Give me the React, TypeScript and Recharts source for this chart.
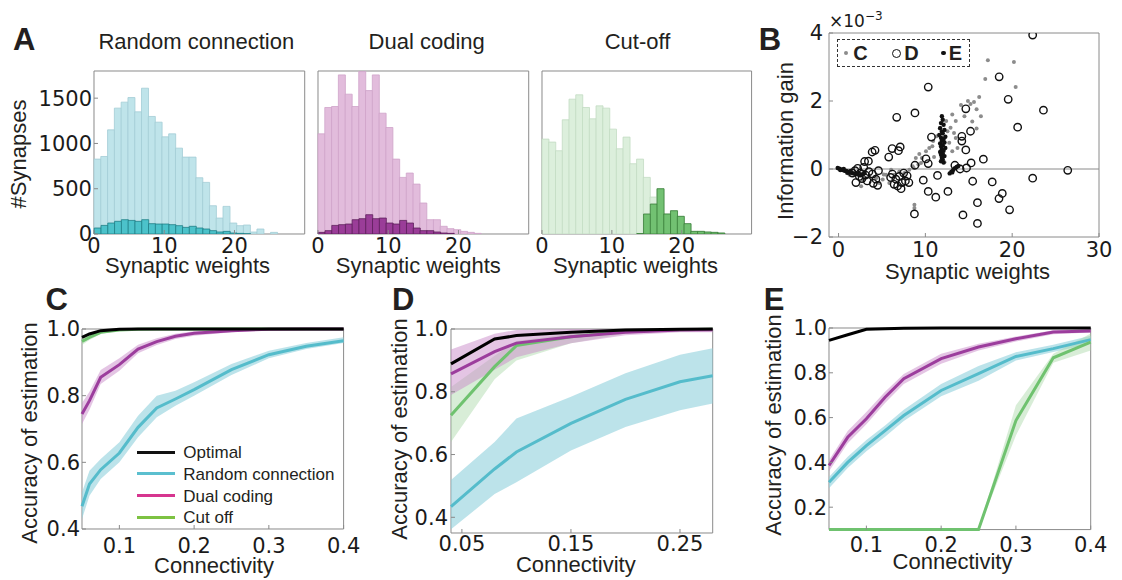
import React from "react";
import {
  BarChart,
  Bar,
  XAxis,
  YAxis,
  ScatterChart,
  Scatter,
  ComposedChart,
  Area,
  Line,
  ReferenceArea,
  ReferenceLine,
} from "recharts";

const SANS = "'Liberation Sans', Arial, Helvetica, sans-serif";
const TICK = { fontFamily: "DejaVu Sans", fontSize: 21, fill: "#1a1a1a" };
const FRAME = "#8a8a8a";
const INK = "#231f20";
const M = { top: 14, right: 22, bottom: 4, left: 14 };
const TL = 4; // inward tick length

// ---- A: synaptic weight histograms (bin start, width 1) ----
const weightBins = [0, 1, 2, 3, 4, 5, 6, 7, 8, 9, 10, 11, 12, 13, 14, 15, 16, 17, 18, 19, 20, 21, 22, 23, 24, 25, 26, 27, 28, 29];
const randomAll = [827, 856, 1150, 1390, 1456, 1507, 1349, 1610, 1298, 1235, 1073, 1106, 948, 849, 849, 621, 570, 312, 176, 305, 121, 92, 99, 22, 55, 0, 18, 0, 0, 0];
const randomSel = [66, 95, 121, 140, 158, 150, 140, 158, 114, 110, 110, 103, 92, 73, 85, 66, 55, 37, 22, 29, 11, 7, 3, 0, 0, 0, 0, 0, 0, 0];
const dualAll = [1106, 1397, 1408, 1757, 1544, 1408, 1794, 1584, 1757, 1334, 1176, 827, 625, 673, 551, 342, 158, 158, 85, 59, 48, 29, 18, 7, 0, 0, 0, 0, 0, 0];
const dualSel = [18, 37, 95, 103, 110, 158, 169, 213, 169, 176, 121, 110, 150, 121, 66, 37, 37, 22, 11, 7, 0, 0, 0, 0, 0, 0, 0, 0, 0, 0];
const cutAll = [1048, 1015, 919, 1261, 1489, 1537, 1397, 1272, 1415, 1390, 1158, 941, 1070, 776, 827, 625, 408, 500, 221, 257, 195, 114, 29, 29, 22, 18, 11, 0, 0, 0];
const cutSel = [0, 0, 0, 0, 0, 0, 0, 0, 0, 0, 0, 0, 0, 0, 5, 221, 331, 500, 221, 257, 195, 114, 29, 29, 22, 18, 11, 0, 0, 0];

// ---- B: information gain (x1e-3) vs synaptic weight ----
const gainC = [
  [17.2, 3.2], [20.2, 3.15], [16.9, 2.65], [20.4, 2.41], [16.2, 2.12], [15.6, 1.97], [15.2, 1.91], [15.9, 1.76],
  [16.4, 1.55], [15.4, 1.4], [15.9, 1.19], [14.1, 1.88], [14.9, 2.0], [13.1, 1.6], [12.4, 1.41], [13.5, 1.41],
  [12.9, 1.21], [13.3, 1.06], [12.55, 1.11], [13.5, 0.91], [12.75, 0.77], [13.7, 0.62], [13.1, 0.52], [11.7, 1.21],
  [11.3, 0.96], [10.9, 0.82], [10.45, 0.62], [10.8, 0.67], [10.07, 0.52], [9.3, 0.44], [9.6, 0.32], [8.9, 0.32],
  [9.5, 0.18], [9.2, 0.13], [8.65, 0.03], [8.53, 0.08], [8.15, -0.02], [7.58, -0.12], [7.0, -0.07], [6.43, -0.17],
  [6.05, -0.02], [5.47, -0.17], [5.09, -0.31], [5.2, -0.16], [4.71, -0.41], [5.85, -0.41], [4.33, -0.27], [3.56, -0.19],
  [2.8, -0.31], [2.6, -0.51], [2.03, -0.12], [1.26, -0.17], [8.74, -1.15], [8.74, -1.05], [14.5, 1.55], [12.2, 0.2], [11.0, 0.35],
];
const gainD = [
  [10.33, 2.41], [8.8, 1.65], [6.7, 1.52], [4.2, 0.55], [3.87, 0.5], [6.17, 0.6], [7.1, 0.65], [6.9, 0.54],
  [5.78, 0.35], [3.44, 0.23], [10.7, 0.94], [10.07, 0.3], [8.8, 0.11], [10.33, 0.16], [13.4, 0.11], [11.4, -0.19],
  [9.76, -0.33], [10.33, -0.66], [11.2, -0.83], [12.6, -0.66], [8.74, -1.32], [22.36, 3.94], [18.5, 2.71], [19.54, 2.05],
  [23.6, 1.73], [14.66, 1.77], [20.63, 1.23], [15.2, 1.11], [14.2, 0.96], [14.2, 0.82], [14.66, 0.56], [16.68, 0.29],
  [15.27, 0.18], [14.74, 0.03], [14.0, 0.0], [26.4, -0.04], [22.36, -0.27], [15.45, -0.36], [17.7, -0.38], [18.86, -0.72],
  [18.48, -0.87], [16.0, -0.99], [19.7, -1.2], [14.33, -1.35], [16.0, -1.6],
  [1.9, -0.05], [2.2, 0.02], [2.5, -0.12], [2.9, 0.05], [3.1, -0.18], [2.7, -0.28], [3.5, -0.08], [3.9, -0.15],
  [4.3, -0.3], [4.6, -0.05], [2.0, -0.4], [3.3, -0.35], [4.0, -0.42], [2.4, -0.22], [1.6, -0.12], [3.0, 0.22], [4.5, -0.48],
  [6.2, -0.15], [6.6, -0.3], [7.0, -0.22], [7.3, -0.4], [7.7, -0.35], [6.8, -0.5], [7.2, -0.58], [7.9, -0.2],
  [7.5, -0.12], [6.4, -0.45], [8.1, -0.4], [6.0, -0.25],
];
const gainE = [
  [11.9, 1.55], [12.0, 1.45], [11.8, 1.35], [12.1, 1.3], [11.7, 1.2], [12.2, 1.15], [11.9, 1.1], [12.0, 1.05],
  [11.6, 1.0], [12.3, 0.95], [11.8, 0.92], [12.1, 0.88], [11.9, 0.83], [12.2, 0.78], [11.7, 0.75], [12.0, 0.7],
  [11.8, 0.66], [12.3, 0.62], [11.9, 0.58], [12.1, 0.54], [11.7, 0.5], [12.0, 0.46], [11.8, 0.42], [12.2, 0.38],
  [11.9, 0.33], [12.0, 0.28], [11.8, 0.23], [12.1, 0.19],
  [12.8, -0.13], [13.0, -0.08], [13.2, -0.03], [13.4, 0.02], [13.6, 0.06], [13.8, 0.09], [13.1, -0.1],
  [-0.1, 0.03], [0.1, 0.01], [0.3, -0.01], [0.5, -0.03], [0.7, -0.05], [0.9, -0.06], [1.1, -0.08], [1.3, -0.1],
  [1.5, -0.11], [1.7, -0.13], [1.9, -0.14], [0.2, -0.03], [0.6, 0.0], [1.0, -0.11], [1.4, -0.06], [2.2, -0.15],
  [2.6, -0.17], [3.0, -0.12],
];

// ---- C: accuracy vs connectivity ----
const connC = [0.05, 0.06, 0.075, 0.1, 0.125, 0.15, 0.175, 0.2, 0.25, 0.3, 0.35, 0.4];
const optimalC = [0.975, 0.985, 0.995, 0.999, 1, 1, 1, 1, 1, 1, 1, 1];
const randomC = [0.468, 0.535, 0.578, 0.628, 0.705, 0.763, 0.79, 0.818, 0.878, 0.923, 0.948, 0.965];
const randomCLo = [0.43, 0.5, 0.55, 0.6, 0.675, 0.735, 0.77, 0.8, 0.862, 0.912, 0.94, 0.958];
const randomCHi = [0.51, 0.575, 0.61, 0.66, 0.74, 0.8, 0.815, 0.84, 0.895, 0.935, 0.958, 0.975];
const dualC = [0.745, 0.785, 0.855, 0.893, 0.94, 0.962, 0.978, 0.987, 0.995, 0.999, 1, 1];
const dualCLo = [0.715, 0.758, 0.835, 0.875, 0.927, 0.952, 0.97, 0.98, 0.99, 0.997, 0.999, 0.999];
const dualCHi = [0.778, 0.812, 0.877, 0.912, 0.953, 0.972, 0.986, 0.993, 0.999, 1, 1, 1];
const cutC = [0.963, 0.975, 0.99, 0.997, 0.999, 1, 1, 1, 1, 1, 1, 1];
const cutCLo = [0.952, 0.967, 0.985, 0.995, 0.998, 1, 1, 1, 1, 1, 1, 1];
const cutCHi = [0.973, 0.982, 0.994, 0.999, 1, 1, 1, 1, 1, 1, 1, 1];

// ---- D ----
const connD = [0.04, 0.08, 0.1, 0.15, 0.2, 0.25, 0.28];
const optimalD = [0.889, 0.968, 0.979, 0.99, 0.997, 0.999, 1];
const randomD = [0.434, 0.554, 0.608, 0.699, 0.776, 0.832, 0.851];
const randomDLo = [0.362, 0.474, 0.512, 0.613, 0.688, 0.741, 0.763];
const randomDHi = [0.519, 0.64, 0.715, 0.784, 0.859, 0.918, 0.939];
const dualD = [0.857, 0.928, 0.955, 0.975, 0.99, 0.997, 0.998];
const dualDLo = [0.79, 0.87, 0.91, 0.955, 0.98, 0.99, 0.99];
const dualDHi = [0.935, 0.985, 0.997, 1, 1, 1, 1];
const cutD = [0.725, 0.88, 0.947, 0.975, 0.993, 0.998, 0.999];
const cutDLo = [0.64, 0.84, 0.9, 0.955, 0.985, 0.995, 0.997];
const cutDHi = [0.815, 0.915, 0.962, 0.985, 0.998, 1, 1];

// ---- E ----
const connE = [0.05, 0.075, 0.1, 0.125, 0.15, 0.2, 0.25, 0.3, 0.35, 0.4];
const optimalE = [0.945, 0.97, 0.994, 0.997, 0.999, 1, 1, 1, 1, 1];
const randomE = [0.311, 0.4, 0.475, 0.542, 0.609, 0.721, 0.796, 0.873, 0.908, 0.948];
const randomELo = [0.285, 0.375, 0.45, 0.515, 0.585, 0.695, 0.765, 0.855, 0.893, 0.93];
const randomEHi = [0.335, 0.425, 0.5, 0.565, 0.635, 0.75, 0.83, 0.892, 0.925, 0.965];
const dualE = [0.386, 0.512, 0.595, 0.691, 0.774, 0.863, 0.915, 0.952, 0.982, 0.987];
const dualELo = [0.36, 0.485, 0.57, 0.665, 0.75, 0.84, 0.9, 0.94, 0.972, 0.98];
const dualEHi = [0.41, 0.54, 0.625, 0.715, 0.795, 0.885, 0.93, 0.962, 0.99, 0.995];
const cutE = [0.1, 0.1, 0.1, 0.1, 0.1, 0.1, 0.1, 0.587, 0.867, 0.937];
const cutELo = [0.1, 0.1, 0.1, 0.1, 0.1, 0.1, 0.1, 0.52, 0.845, 0.9];
const cutEHi = [0.1, 0.1, 0.1, 0.1, 0.1, 0.1, 0.1, 0.655, 0.885, 0.975];

const CYAN = "#55bccb";
const PURPLE = "#9c3d9d";
const GREEN = "#6fc26f";

type Box = { x0: number; y0: number; x1: number; y1: number };

// chart size / position so that the plot area lands on the box
function place(b: Box, yW: number, xH: number) {
  return {
    left: b.x0 - yW - M.left,
    top: b.y0 - M.top,
    width: M.left + yW + (b.x1 - b.x0) + M.right,
    height: M.top + (b.y1 - b.y0) + xH + M.bottom,
  };
}

const inwardTick = { stroke: FRAME, strokeWidth: 1 };

function Histogram({ box, all, sel, colors, showY }: any) {
  const yW = showY ? 64 : 0;
  const xH = 34;
  const p = place(box, yW, xH);
  const rows = weightBins.map((bin, i) => ({ bin, all: all[i], sel: sel[i] }));
  return (
    <div style={{ position: "absolute", left: p.left, top: p.top }}>
      <BarChart width={p.width} height={p.height} data={rows} margin={M} barCategoryGap={0} barGap="-100%">
        <XAxis dataKey="bin" type="category" hide height={0} />
        <XAxis
          xAxisId="w"
          type="number"
          domain={[0, 30]}
          allowDataOverflow
          ticks={[0, 10, 20]}
          axisLine={false}
          tickLine={inwardTick}
          tickSize={-TL}
          tickMargin={4 + TL}
          tick={TICK}
          height={xH}
        />
        <YAxis
          domain={[0, 1800]}
          allowDataOverflow
          ticks={[0, 500, 1000, 1500]}
          hide={!showY}
          width={yW}
          axisLine={false}
          tickLine={inwardTick}
          tickSize={-TL}
          tickMargin={2 + TL}
          tick={TICK}
        />
        <Bar dataKey="all" fill={colors.lightFill} stroke={colors.lightStroke} strokeWidth={0.8} isAnimationActive={false} />
        <Bar dataKey="sel" fill={colors.darkFill} stroke={colors.darkStroke} strokeWidth={0.8} isAnimationActive={false} />
        <ReferenceArea xAxisId="w" x1={0} x2={30} y1={0} y2={1800} fill="none" stroke={FRAME} strokeWidth={1} ifOverflow="visible" />
      </BarChart>
    </div>
  );
}

const GrayDot = (p: any) => <circle cx={p.cx} cy={p.cy} r={2} fill="#8c8c8c" />;
const OpenDot = (p: any) => <circle cx={p.cx} cy={p.cy} r={3.7} fill="none" stroke="#111" strokeWidth={1.4} />;
const BlackDot = (p: any) => <circle cx={p.cx} cy={p.cy} r={2.2} fill="#111" />;

const minus = (v: number) => (v < 0 ? `\u2212${-v}` : `${v}`);

function GainScatter() {
  const box = { x0: 829.3, y0: 33.3, x1: 1099.3, y1: 237.3 };
  const yW = 40;
  const xH = 34;
  const p = place(box, yW, xH);
  const toRows = (pts: number[][]) => pts.map(([w, v]) => ({ w, v }));
  return (
    <div style={{ position: "absolute", left: p.left, top: p.top }}>
      <ScatterChart width={p.width} height={p.height} margin={M}>
        <XAxis
          type="number"
          dataKey="w"
          domain={[-1.1, 30]}
          allowDataOverflow
          ticks={[0, 10, 20, 30]}
          axisLine={false}
          tickLine={inwardTick}
          tickSize={-TL}
          tickMargin={5 + TL}
          tick={TICK}
          height={xH}
        />
        <YAxis
          type="number"
          dataKey="v"
          domain={[-2, 4]}
          allowDataOverflow
          ticks={[-2, 0, 2, 4]}
          tickFormatter={minus}
          width={yW}
          axisLine={false}
          tickLine={inwardTick}
          tickSize={-TL}
          tickMargin={6 + TL}
          tick={TICK}
        />
        <ReferenceLine y={0} stroke="#8a8a8a" strokeWidth={1} />
        <Scatter data={toRows(gainC)} shape={GrayDot} isAnimationActive={false} />
        <Scatter data={toRows(gainD)} shape={OpenDot} isAnimationActive={false} />
        <Scatter data={toRows(gainE)} shape={BlackDot} isAnimationActive={false} />
        <ReferenceArea x1={-1.1} x2={30} y1={-2} y2={4} fill="none" stroke={FRAME} strokeWidth={1} ifOverflow="visible" />
      </ScatterChart>
    </div>
  );
}

function makeRows(conn: number[], opt: number[], r: number[], rLo: number[], rHi: number[], d: number[], dLo: number[], dHi: number[], c: number[], cLo: number[], cHi: number[]) {
  return conn.map((x, i) => ({
    x,
    optimal: opt[i],
    random: r[i],
    randomBand: [rLo[i], rHi[i]],
    dual: d[i],
    dualBand: [dLo[i], dHi[i]],
    cut: c[i],
    cutBand: [cLo[i], cHi[i]],
  }));
}

function AccuracyPanel({ box, rows, xDomain, xTicks, xDigits, yDomain, yTicks, xMargin, yMargin }: any) {
  const yW = 44;
  const xH = 34;
  const p = place(box, yW, xH);
  return (
    <div style={{ position: "absolute", left: p.left, top: p.top }}>
      <ComposedChart width={p.width} height={p.height} data={rows} margin={M}>
        <XAxis
          type="number"
          dataKey="x"
          domain={xDomain}
          ticks={xTicks}
          tickFormatter={(v: number) => v.toFixed(xDigits)}
          axisLine={false}
          tickLine={inwardTick}
          tickSize={-TL}
          tickMargin={xMargin + TL}
          tick={TICK}
          height={xH}
        />
        <YAxis
          type="number"
          domain={yDomain}
          ticks={yTicks}
          tickFormatter={(v: number) => v.toFixed(1)}
          width={yW}
          axisLine={false}
          tickLine={inwardTick}
          tickSize={-TL}
          tickMargin={yMargin + TL}
          tick={TICK}
        />
        <ReferenceArea
          x1={xDomain[0]}
          x2={xDomain[1]}
          y1={yDomain[0]}
          y2={yDomain[1]}
          fill="none"
          stroke={FRAME}
          strokeWidth={1}
          ifOverflow="visible"
        />
        <Area type="linear" dataKey="randomBand" stroke="none" fill="#8fd0dc" fillOpacity={0.6} isAnimationActive={false} />
        <Area type="linear" dataKey="cutBand" stroke="none" fill="#a8d8a6" fillOpacity={0.45} isAnimationActive={false} />
        <Area type="linear" dataKey="dualBand" stroke="none" fill="#c98cc9" fillOpacity={0.5} isAnimationActive={false} />
        <Line type="linear" dataKey="random" stroke={CYAN} strokeWidth={3} dot={false} isAnimationActive={false} />
        <Line type="linear" dataKey="cut" stroke={GREEN} strokeWidth={3} dot={false} isAnimationActive={false} />
        <Line type="linear" dataKey="dual" stroke={PURPLE} strokeWidth={3} dot={false} isAnimationActive={false} />
        <Line type="linear" dataKey="optimal" stroke="#000" strokeWidth={3} dot={false} isAnimationActive={false} />
      </ComposedChart>
    </div>
  );
}

function Txt({ x, y, children, size = 22, weight = 400, rotate = false }: any) {
  return (
    <div
      style={{
        position: "absolute",
        left: x,
        top: y,
        transform: `translate(-50%, -50%)${rotate ? " rotate(-90deg)" : ""}`,
        fontFamily: SANS,
        fontSize: size,
        fontWeight: weight,
        lineHeight: 1,
        whiteSpace: "nowrap",
        color: INK,
      }}
    >
      {children}
    </div>
  );
}

const legendC = [
  { name: "Optimal", color: "#111", y: 452.2 },
  { name: "Random connection", color: "#5bbfcf", y: 473.8 },
  { name: "Dual coding", color: "#d6358f", y: 495.5 },
  { name: "Cut off", color: "#7dc242", y: 517.3 },
];

export default function App() {
  const rowsC = makeRows(connC, optimalC, randomC, randomCLo, randomCHi, dualC, dualCLo, dualCHi, cutC, cutCLo, cutCHi);
  const rowsD = makeRows(connD, optimalD, randomD, randomDLo, randomDHi, dualD, dualDLo, dualDHi, cutD, cutDLo, cutDHi);
  const rowsE = makeRows(connE, optimalE, randomE, randomELo, randomEHi, dualE, dualELo, dualEHi, cutE, cutELo, cutEHi);

  return (
    <div style={{ position: "absolute", left: 0, top: 0, width: 1122, height: 580, background: "#fff", overflow: "hidden" }}>
      <Histogram
        box={{ x0: 94.3, y0: 71, x1: 298, y1: 234 }}
        all={randomAll}
        sel={randomSel}
        showY
        colors={{ lightFill: "#bfe4ea", lightStroke: "#a3cdd5", darkFill: "#4cc2ca", darkStroke: "#1f7f86" }}
      />
      <Histogram
        box={{ x0: 318.3, y0: 71, x1: 522, y1: 234 }}
        all={dualAll}
        sel={dualSel}
        colors={{ lightFill: "#e2bcdc", lightStroke: "#cfa3c9", darkFill: "#9a3d98", darkStroke: "#5e1f5c" }}
      />
      <Histogram
        box={{ x0: 541.7, y0: 71, x1: 744.3, y1: 234 }}
        all={cutAll}
        sel={cutSel}
        colors={{ lightFill: "#dcefdc", lightStroke: "#c3dcc3", darkFill: "#72c172", darkStroke: "#3a7d3a" }}
      />
      <GainScatter />
      <AccuracyPanel
        box={{ x0: 81.7, y0: 329.3, x1: 343.3, y1: 529.3 }}
        rows={rowsC}
        xDomain={[0.05, 0.4]}
        xTicks={[0.1, 0.2, 0.3, 0.4]}
        xDigits={1}
        yDomain={[0.4, 1]}
        yTicks={[0.4, 0.6, 0.8, 1.0]}
        xMargin={9}
        yMargin={2}
      />
      <AccuracyPanel
        box={{ x0: 451, y0: 329.3, x1: 712.7, y1: 533.3 }}
        rows={rowsD}
        xDomain={[0.04, 0.28]}
        xTicks={[0.05, 0.15, 0.25]}
        xDigits={2}
        yDomain={[0.35, 1]}
        yTicks={[0.4, 0.6, 0.8, 1.0]}
        xMargin={3}
        yMargin={3}
      />
      <AccuracyPanel
        box={{ x0: 829.3, y0: 327.7, x1: 1091, y1: 529.3 }}
        rows={rowsE}
        xDomain={[0.05, 0.4]}
        xTicks={[0.1, 0.2, 0.3, 0.4]}
        xDigits={1}
        yDomain={[0.1, 1]}
        yTicks={[0.2, 0.4, 0.6, 0.8, 1.0]}
        xMargin={7}
        yMargin={2}
      />

      {/* panel letters */}
      <Txt x={24.2} y={39.2} size={31} weight={700}>A</Txt>
      <Txt x={770} y={39.2} size={31} weight={700}>B</Txt>
      <Txt x={56.7} y={299.2} size={31} weight={700}>C</Txt>
      <Txt x={403.3} y={299.2} size={31} weight={700}>D</Txt>
      <Txt x={774} y={299.2} size={31} weight={700}>E</Txt>

      {/* A titles and labels */}
      <Txt x={196.3} y={41.6}>Random connection</Txt>
      <Txt x={426.7} y={41.6}>Dual coding</Txt>
      <Txt x={637.5} y={41.6}>Cut-off</Txt>
      <Txt x={19.2} y={154} rotate>#Synapses</Txt>
      <Txt x={187.5} y={265.6}>Synaptic weights</Txt>
      <Txt x={418.3} y={265.6}>Synaptic weights</Txt>
      <Txt x={635.5} y={265.6}>Synaptic weights</Txt>

      {/* B labels */}
      <Txt x={967.5} y={271.8}>Synaptic weights</Txt>
      <Txt x={786.3} y={141} rotate>Information gain</Txt>
      <div style={{ position: "absolute", left: 829, top: 13, fontFamily: "DejaVu Sans", fontSize: 17, lineHeight: 1, color: "#1a1a1a", whiteSpace: "nowrap" }}>
        ×10<span style={{ fontSize: 12, position: "relative", top: -7 }}>{"\u22123"}</span>
      </div>
      <div style={{ position: "absolute", left: 837.3, top: 39.3, width: 132.7, height: 27.4, boxSizing: "border-box", border: "1px dashed #333" }} />
      <div style={{ position: "absolute", left: 844, top: 50.7, width: 4, height: 4, borderRadius: 2, background: "#8c8c8c" }} />
      <Txt x={860.5} y={53} size={20} weight={700}>C</Txt>
      <div style={{ position: "absolute", left: 892.2, top: 48.5, width: 9, height: 9, boxSizing: "border-box", borderRadius: 5, border: "1.4px solid #111" }} />
      <Txt x={911.5} y={53} size={20} weight={700}>D</Txt>
      <div style={{ position: "absolute", left: 941, top: 50.7, width: 4.5, height: 4.5, borderRadius: 3, background: "#111" }} />
      <Txt x={955.5} y={53} size={20} weight={700}>E</Txt>

      {/* C/D/E labels */}
      <Txt x={29.5} y={433.3} rotate>Accuracy of estimation</Txt>
      <Txt x={400} y={429} rotate>Accuracy of estimation</Txt>
      <Txt x={774.2} y={425} rotate>Accuracy of estimation</Txt>
      <Txt x={214} y={565.6}>Connectivity</Txt>
      <Txt x={575.8} y={565.4}>Connectivity</Txt>
      <Txt x={952.5} y={562}>Connectivity</Txt>

      {/* legend of C */}
      {legendC.map((l) => (
        <React.Fragment key={l.name}>
          <div style={{ position: "absolute", left: 137, top: l.y - 1.4, width: 38, height: 2.8, background: l.color }} />
          <div
            style={{
              position: "absolute",
              left: 183.3,
              top: l.y,
              transform: "translateY(-50%)",
              fontFamily: SANS,
              fontSize: 17,
              lineHeight: 1,
              whiteSpace: "nowrap",
              color: INK,
            }}
          >
            {l.name}
          </div>
        </React.Fragment>
      ))}
    </div>
  );
}
